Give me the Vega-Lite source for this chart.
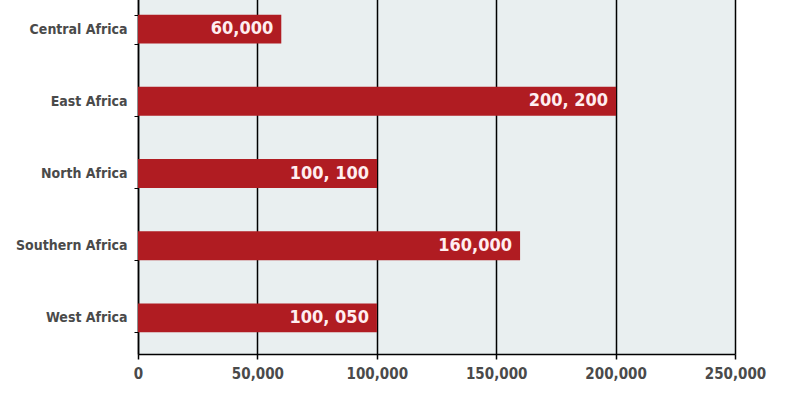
{
  "$schema": "https://vega.github.io/schema/vega-lite/v6.json",
  "width": 597,
  "height": 361,
  "autosize": {"type": "none"},
  "padding": {"left": 138, "top": -7, "right": 52, "bottom": 45},
  "background": "white",
  "config": {
    "view": {"stroke": null, "fill": "#e9eff0"},
    "font": "DejaVu Sans Condensed"
  },
  "data": {
    "values": [
      {"region": "Central Africa", "value": 60000, "label": "60,000"},
      {"region": "East Africa", "value": 200200, "label": "200, 200"},
      {"region": "North Africa", "value": 100100, "label": "100, 100"},
      {"region": "Southern Africa", "value": 160000, "label": "160,000"},
      {"region": "West Africa", "value": 100050, "label": "100, 050"}
    ]
  },
  "encoding": {
    "y": {
      "field": "region",
      "type": "nominal",
      "sort": null,
      "scale": {"paddingInner": 0.6, "paddingOuter": 0.3},
      "axis": {
        "title": null,
        "tickBand": "extent",
        "tickSize": 4,
        "tickColor": "black",
        "domainColor": "black",
        "domainWidth": 1.5,
        "labelFont": "DejaVu Sans Condensed",
        "labelFontSize": 14,
        "labelFontWeight": "bold",
        "labelColor": "#4a4a4a",
        "labelPadding": 7,
        "grid": false
      }
    },
    "x": {
      "field": "value",
      "type": "quantitative",
      "scale": {"domain": [0, 250000], "nice": false},
      "axis": {
        "title": null,
        "values": [0, 50000, 100000, 150000, 200000, 250000],
        "format": ",d",
        "grid": true,
        "gridColor": "black",
        "gridWidth": 1.5,
        "gridOpacity": 1,
        "domainColor": "black",
        "domainWidth": 1.5,
        "tickColor": "black",
        "tickSize": 5,
        "tickWidth": 1.5,
        "labelFont": "DejaVu Sans Condensed",
        "labelFontSize": 15,
        "labelFontWeight": "bold",
        "labelColor": "#4a4a4a",
        "labelPadding": 7,
        "labelFlush": false
      }
    }
  },
  "layer": [
    {"mark": {"type": "bar", "color": "#b01c22"}},
    {
      "mark": {
        "type": "text",
        "align": "right",
        "baseline": "middle",
        "dx": -8,
        "color": "#ffeef0",
        "fontWeight": "bold",
        "fontSize": 18,
        "font": "DejaVu Sans Condensed"
      },
      "encoding": {"text": {"field": "label"}}
    }
  ]
}
